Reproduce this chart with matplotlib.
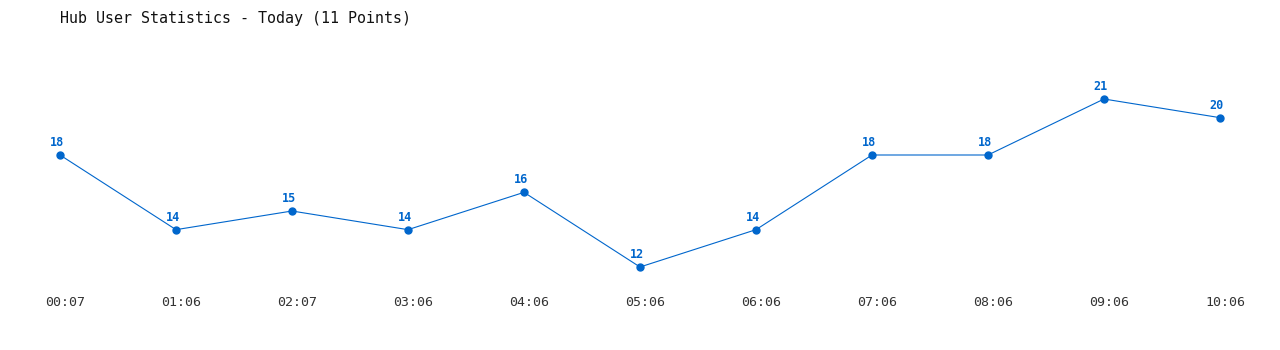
import matplotlib
matplotlib.use("Agg")
from matplotlib import pyplot as plt
from matplotlib.transforms import ScaledTranslation

times = ["00:07", "01:06", "02:07", "03:06", "04:06", "05:06",
         "06:06", "07:06", "08:06", "09:06", "10:06"]
users = [18, 14, 15, 14, 16, 12, 14, 18, 18, 21, 20]

blue = "#0066cc"
grey = "#333333"
mono = "DejaVu Sans Mono"

fig = plt.figure(figsize=(12.8, 3.5), dpi=100)
# axes box placed so that the points line up with the reference pixels
ax = fig.add_axes([60/1280, 1 - 267/350, 1160/1280, 168/350])
x = list(range(len(users)))
ax.plot(x, users, color=blue, linewidth=0.8, marker="o", markersize=5,
        clip_on=False)
for xi, v in zip(x, users):
    ax.annotate(str(v), (xi, v), xytext=(-2.5, 9), textcoords="offset points",
                ha="center", va="center", color=blue, fontsize=8.5,
                fontweight="bold", family=mono)

ax.set_xlim(0, len(users) - 1)
ax.set_ylim(min(users), max(users))
ax.set_xticks(x)
ax.set_xticklabels(times, family=mono, fontsize=9.5, color=grey)
ax.set_yticks([])
ax.tick_params(axis="x", length=0, pad=21)
# labels in the original sit a few pixels right of the points
shift = ScaledTranslation(5/100, 0, fig.dpi_scale_trans)
for lab in ax.get_xticklabels():
    lab.set_transform(lab.get_transform() + shift)
for s in ax.spines.values():
    s.set_visible(False)

fig.text(60/1280, 1 - 18/350, "Hub User Statistics - Today (11 Points)",
         family=mono, fontsize=10.8, color="#111111", ha="left", va="center")

fig.savefig("out.png", dpi=100)
